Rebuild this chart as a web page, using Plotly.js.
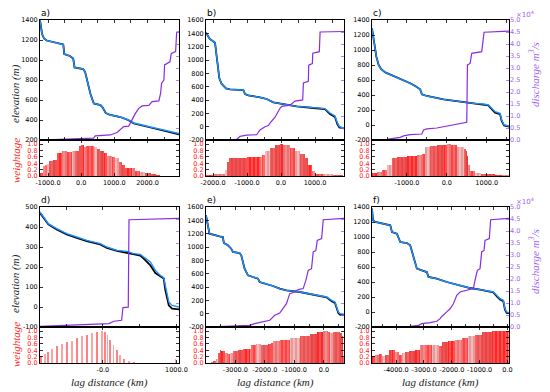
<!DOCTYPE html>
<html><head><meta charset="utf-8">
<script src="https://cdn.plot.ly/plotly-3.0.1.min.js"></script>
<style>html,body{margin:0;padding:0;background:#fff}#chart{width:550px;height:392px}</style>
</head><body><div id="chart"></div>
<script>
// ---------- panel a ----------
const aElevX = [-1242, -1215, -1180, -1121, -1040, -540, -510, -340, -240, -200, 60, 120, 200, 280, 380, 580, 640, 740, 880, 1180, 1430, 1590, 2090, 2600, 2950];
const aElevY = [1400, 1330, 1260, 1215, 1195, 1155, 1060, 1040, 1015, 925, 910, 880, 770, 660, 565, 550, 530, 470, 450, 430, 400, 370, 330, 295, 265];
const aBlackY = [1400, 1330, 1260, 1215, 1195, 1155, 1060, 1040, 1015, 925, 910, 880, 770, 660, 565, 550, 530, 470, 450, 430, 398, 365, 325, 288, 255];
const aDisX = [-1242, -130, 374, 424, 879, 1081, 1182, 1283, 1434, 1485, 1556, 1636, 1737, 1838, 2040, 2141, 2343, 2394, 2424, 2495, 2515, 2677, 2717, 2848, 2879, 2970];
const aDisY = [0.0, 0.05, 0.08, 0.17, 0.21, 0.31, 0.42, 0.56, 0.58, 0.69, 0.9, 1.11, 1.32, 1.42, 1.44, 1.6, 1.63, 1.94, 2.36, 2.5, 3.13, 3.26, 3.61, 3.68, 4.49, 4.51];
const aWX = [-1242, -1161, -1090, -1040, -960, -838, -737, -586, -434, -283, -182, -81, -11, 71, 151, 374, 475, 576, 677, 778, 929, 1030, 1131, 1232, 1333, 1535, 1636, 1788, 1939, 2091, 2242, 2374];
const aWY = [0.1, 0.3, 0.33, 0.38, 0.48, 0.5, 0.72, 0.78, 0.76, 0.77, 0.8, 0.95, 0.98, 0.9, 0.93, 0.92, 0.86, 0.78, 0.72, 0.62, 0.6, 0.55, 0.45, 0.35, 0.25, 0.24, 0.15, 0.12, 0.1, 0.06, 0.03, 0.01];
// ---------- panel b ----------
const bElevX = [-2206, -2100, -1941, -1880, -1814, -1745, -1618, -1500, -1108, -1059, -961, -618, -422, -225, 167, 461, 951, 1294, 1441, 1588, 1657, 1716, 1853];
const bElevY = [1410, 1320, 1260, 1000, 725, 640, 575, 560, 550, 490, 470, 440, 415, 365, 325, 305, 285, 270, 205, 160, 60, 0, -20];
const bBlackY = [1410, 1320, 1260, 1000, 725, 640, 575, 560, 550, 490, 470, 440, 415, 365, 325, 305, 280, 262, 190, 145, 40, -10, -25];
const bDisX = [-2206, -1304, -1206, -1010, -716, -618, -471, -373, -324, -176, -29, 20, 265, 412, 637, 660, 804, 815, 922, 935, 1127, 1150, 1853];
const bDisY = [0.0, 0.02, 0.15, 0.2, 0.22, 0.42, 0.55, 0.6, 0.7, 0.95, 1.32, 1.4, 1.45, 1.62, 1.67, 2.38, 2.45, 3.12, 3.18, 3.62, 3.68, 4.5, 4.52];
const bWX = [-2206, -1990, -1695, -1647, -1598, -1520, -1010, -618, -569, -471, -324, -176, -29, 69, 265, 412, 559, 706, 804, 902, 1000, 1245, 1539, 1686, 1833];
const bWY = [0.04, 0.05, 0.05, 0.2, 0.45, 0.57, 0.6, 0.6, 0.65, 0.8, 0.87, 0.96, 1.0, 0.98, 0.87, 0.78, 0.7, 0.55, 0.35, 0.15, 0.07, 0.06, 0.04, 0.02, 0.0];
// ---------- panel c ----------
const cElevX = [-1876, -1817, -1767, -1709, -1651, -1543, -1334, -1084, -918, -793, -668, -626, -501, -84, 333, 666, 916, 1041, 1124, 1208, 1333, 1374, 1433, 1558];
const cElevY = [1289, 1089, 911, 800, 747, 702, 653, 600, 556, 520, 476, 409, 387, 342, 311, 289, 280, 267, 222, 178, 156, 67, 0, -13];
const cBlackY = [1289, 1089, 911, 800, 747, 702, 653, 600, 556, 520, 476, 409, 387, 342, 311, 289, 275, 262, 210, 165, 145, 55, -5, -20];
const cDisX = [-1876, -1501, -1168, -1084, -918, -626, -584, -501, -251, 0, 250, 500, 516, 583, 624, 874, 933, 1558];
const cDisY = [0.0, 0.03, 0.11, 0.17, 0.22, 0.25, 0.42, 0.46, 0.5, 0.58, 0.69, 0.74, 3.13, 3.19, 3.61, 3.68, 4.49, 4.54];
const cWX = [-1875, -1750, -1625, -1500, -1375, -1250, -1000, -750, -625, -540, -420, -250, -80, 0, 100, 250, 420, 480, 500, 540, 580, 700, 850, 1000, 1200, 1400, 1550];
const cWY = [0.08, 0.12, 0.2, 0.35, 0.55, 0.6, 0.62, 0.66, 0.7, 0.9, 0.93, 0.96, 0.98, 1.0, 0.97, 0.92, 0.84, 0.8, 0.62, 0.35, 0.15, 0.1, 0.07, 0.05, 0.04, 0.03, 0.02];
// ---------- panel d ----------
const dElevX = [-855, -810, -742, -628, -492, -355, -219, -37, 54, 191, 327, 418, 509, 555, 646, 714, 782, 827, 850, 896, 941, 1035];
const dElevY = [475, 450, 417, 392, 367, 350, 333, 317, 300, 283, 278, 267, 263, 250, 225, 183, 158, 147, 100, 25, 8, 0];
const dBlackY = [470, 446, 413, 388, 363, 346, 329, 313, 296, 281, 270, 262, 257, 242, 208, 170, 153, 142, 83, 8, -8, -12];
const dDisX = [-855, -492, -37, 82, 150, 255, 273, 345, 355, 1035];
const dDisY = [0.03, 0.07, 0.11, 0.14, 0.24, 0.28, 0.81, 0.83, 4.47, 4.53];
const dWX = [-846, -787, -742, -696, -628, -560, -492, -424, -355, -287, -219, -151, -82, -14, 32, 64, 100, 145, 191, 237, 291, 350, 418, 987];
const dWY = [0.23, 0.29, 0.36, 0.45, 0.54, 0.59, 0.65, 0.7, 0.78, 0.84, 0.89, 0.95, 0.98, 1.0, 0.98, 0.89, 0.73, 0.56, 0.4, 0.25, 0.14, 0.07, 0.02, 0.12];
// ---------- panel e ----------
const eElevX = [-3995, -3934, -3877, -3537, -3424, -3390, -3254, -3141, -3084, -2857, -2801, -2687, -2574, -2404, -2234, -2177, -1950, -1724, -1497, -1270, -816, -363, -136, 91, 261, 374, 488, 544, 680];
const eElevY = [1475, 1300, 1200, 1160, 1150, 1060, 1025, 975, 925, 910, 875, 675, 575, 550, 525, 475, 450, 415, 375, 350, 325, 290, 275, 250, 200, 175, 25, 0, -10];
const eBlackY = [1475, 1300, 1200, 1160, 1150, 1060, 1025, 975, 925, 910, 875, 675, 575, 550, 525, 475, 450, 415, 375, 350, 325, 290, 272, 245, 185, 160, 10, -15, -20];
const eDisX = [-3995, -3197, -2517, -2347, -2064, -1837, -1780, -1667, -1497, -1384, -1270, -1157, -987, -873, -703, -612, -533, -420, -363, -272, -227, -79, -23, 680];
const eDisY = [0.0, 0.03, 0.07, 0.14, 0.21, 0.28, 0.35, 0.49, 0.58, 0.76, 0.97, 1.39, 1.46, 1.56, 1.6, 1.94, 2.36, 2.43, 3.13, 3.19, 3.61, 3.68, 4.47, 4.53];
const eWX = [-3995, -3820, -3764, -3650, -3594, -3537, -3481, -3367, -3254, -3197, -3084, -2914, -2744, -2517, -2460, -2290, -2120, -1894, -1780, -1724, -1497, -1157, -816, -476, -249, -23, 147, 204, 317, 544, 601, 635];
const eWY = [0.0, 0.02, 0.06, 0.14, 0.3, 0.41, 0.38, 0.32, 0.28, 0.3, 0.38, 0.41, 0.43, 0.43, 0.57, 0.6, 0.57, 0.59, 0.62, 0.68, 0.73, 0.78, 0.84, 0.92, 0.98, 1.0, 0.97, 0.95, 0.97, 0.95, 0.85, 0.2];
// ---------- panel f ----------
const fElevX = [-4868, -4832, -4748, -4450, -4211, -4151, -3972, -3853, -3614, -3495, -3375, -3256, -3077, -2898, -2838, -2540, -2182, -1704, -1346, -987, -748, -509, -390, -271, -151, -92, -32, 54];
const fElevY = [1378, 1222, 1200, 1178, 1156, 1067, 1044, 933, 920, 889, 733, 578, 556, 533, 467, 444, 400, 356, 320, 298, 280, 267, 222, 178, 156, 44, 0, -9];
const fBlackY = [1378, 1222, 1200, 1178, 1156, 1067, 1044, 933, 920, 889, 733, 578, 556, 533, 467, 444, 400, 356, 320, 298, 278, 262, 210, 168, 145, 30, -12, -15];
const fDisX = [-4868, -3495, -3196, -3077, -2779, -2540, -2420, -2361, -2182, -2062, -1943, -1823, -1704, -1465, -1226, -1167, -1083, -987, -928, -844, -808, -653, -605, 54];
const fDisY = [0.0, 0.03, 0.07, 0.14, 0.18, 0.24, 0.35, 0.44, 0.63, 0.76, 0.97, 1.32, 1.46, 1.53, 1.6, 1.94, 2.36, 2.43, 3.13, 3.19, 3.61, 3.68, 4.47, 4.53];
const fWX = [-4868, -4749, -4630, -4510, -4391, -4271, -4152, -4032, -3913, -3793, -3674, -3554, -3315, -3136, -2957, -2718, -2479, -2360, -2121, -1882, -1643, -1404, -1165, -926, -567, 30];
const fWY = [0.23, 0.25, 0.29, 0.23, 0.25, 0.4, 0.4, 0.34, 0.26, 0.31, 0.36, 0.38, 0.4, 0.56, 0.58, 0.56, 0.54, 0.67, 0.69, 0.73, 0.78, 0.84, 0.89, 0.98, 1.0, 1.0];

const panelLabels = ['a)', 'b)', 'c)', 'd)', 'e)', 'f)'];
const dTickVals = [0, 1000];
const dTickText = ['-0.0', '1000.0'];

const panels = [
  {ex:aElevX, ey:aElevY, by:aBlackY, dx:aDisX, dy:aDisY, wx:aWX, wy:aWY, xr:[-1242,2950], yr:[200,1400], yd:200},
  {ex:bElevX, ey:bElevY, by:bBlackY, dx:bDisX, dy:bDisY, wx:bWX, wy:bWY, xr:[-2206,1853], yr:[-200,1600], yd:200},
  {ex:cElevX, ey:cElevY, by:cBlackY, dx:cDisX, dy:cDisY, wx:cWX, wy:cWY, xr:[-1876,1558], yr:[-200,1400], yd:200},
  {ex:dElevX, ey:dElevY, by:dBlackY, dx:dDisX, dy:dDisY, wx:dWX, wy:dWY, xr:[-855,1035], yr:[-100,500], yd:100, sparse:true},
  {ex:eElevX, ey:eElevY, by:eBlackY, dx:eDisX, dy:eDisY, wx:eWX, wy:eWY, xr:[-3995,680], yr:[-200,1600], yd:200},
  {ex:fElevX, ey:fElevY, by:fBlackY, dx:fDisX, dy:fDisY, wx:fWX, wy:fWY, xr:[-4868,54], yr:[-200,1400], yd:200}
];

const W = 550, H = 392;
const colPx = [[40,179],[206,344],[372,509]];
const rowPx = [{top:[20,140], bot:[140,176]}, {top:[207,327], bot:[327,363]}];
const px2x = p => p / W;
const py2y = p => 1 - p / H;

const BLUE = '#1e8fff', PURPLE = '#8a2be2', PURPLE_T = '#9f5ff0', RED = '#ff1a1a';
const SHADES = ['rgba(255,0,0,0.85)','rgba(255,70,70,0.65)','rgba(255,20,20,0.8)','rgba(255,120,120,0.55)','rgba(255,40,40,0.75)','rgba(255,0,0,0.7)'];
const tickFont = {family:'DejaVu Sans', size:6.5, color:'#000'};
const an = n => (n === 1 ? '' : String(n));

function ticksFor(range, step, dec) {
  const vals = [];
  const lo = Math.min(range[0], range[1]) - 1e-9, hi = Math.max(range[0], range[1]) + 1e-9;
  for (let v = Math.ceil(lo / step) * step; v <= hi; v += step) vals.push(Math.round(v * 1000) / 1000);
  return {tickmode:'array', tickvals:vals, ticktext:vals.map(v => v.toFixed(dec))};
}

const traces = [];
const layout = {
  width: W, height: H, margin:{l:0,r:0,t:0,b:0},
  paper_bgcolor:'#fff', plot_bgcolor:'rgba(0,0,0,0)',
  showlegend:false, font:{family:'DejaVu Sans', size:7, color:'#000'},
  bargap:0, annotations:[]
};

panels.forEach((p, i) => {
  const col = i % 3, row = Math.floor(i / 3);
  const xd = [px2x(colPx[col][0]), px2x(colPx[col][1])];
  const rt = rowPx[row];
  const xtN = 2*i+1, xbN = 2*i+2, yeN = 3*i+1, ydN = 3*i+2, ywN = 3*i+3;
  const xt = 'x'+an(xtN), xb = 'x'+an(xbN), ye = 'y'+an(yeN), yd = 'y'+an(ydN), yw = 'y'+an(ywN);

  traces.push({x:p.ex, y:p.by, xaxis:xt, yaxis:ye, mode:'lines', line:{color:'#000', width:1.8}, hoverinfo:'skip'});
  traces.push({x:p.ex, y:p.ey, xaxis:xt, yaxis:ye, mode:'lines', line:{color:BLUE, width:1.4}, hoverinfo:'skip'});
  traces.push({x:p.dx, y:p.dy, xaxis:xt, yaxis:yd, mode:'lines', line:{color:PURPLE, width:1.2}, hoverinfo:'skip'});

  let widths, offset, colors, pattern;
  if (p.sparse) {
    widths = p.wx.map(() => 24); offset = -12;
    colors = p.wx.map((_, k) => k % 2 ? 'rgba(255,90,90,0.55)' : 'rgba(255,60,60,0.65)');
    pattern = {shape:''};
  } else {
    widths = p.wx.map((v, k) => k < p.wx.length-1 ? p.wx[k+1]-v : (p.xr[1]-v));
    offset = 0;
    colors = p.wx.map((_, k) => SHADES[k % SHADES.length]);
    pattern = {shape:'|', size:4, solidity:0.25, fgcolor:'#ffffff', fgopacity:0.4, fillmode:'overlay'};
  }
  traces.push({type:'bar', x:p.wx, y:p.wy, width:widths, offset:offset, xaxis:xb, yaxis:yw,
    marker:{color:colors, line:{width:0}, pattern:pattern}, hoverinfo:'skip'});

  const common = {showgrid:false, zeroline:false, showline:true, linecolor:'#000', linewidth:1,
                  ticks:'inside', ticklen:3, tickwidth:0.8, tickcolor:'#000', tickfont:tickFont, tickangle:0};

  layout['xaxis'+an(xtN)] = Object.assign({}, common, {domain:xd, range:p.xr, anchor:ye,
    tick0:0, dtick:500, showticklabels:false, mirror:'ticks'});
  layout['xaxis'+an(xbN)] = Object.assign({}, common, {domain:xd, range:p.xr, anchor:yw, mirror:'ticks'},
    i === 3 ? {tickmode:'array', tickvals:dTickVals, ticktext:dTickText} : ticksFor(p.xr, 1000, 1));

  layout['yaxis'+an(yeN)] = Object.assign({}, common, {domain:[py2y(rt.top[1]), py2y(rt.top[0])],
    range:p.yr, anchor:xt, mirror:true}, ticksFor(p.yr, p.yd, 0));
  layout['yaxis'+an(ydN)] = Object.assign({overlaying:ye, side:'right', anchor:xt, range:[0,5],
    showgrid:false, zeroline:false, showline:false, ticks:'inside', ticklen:3,
    tickwidth:0.8, tickcolor:PURPLE_T, showticklabels: col === 2,
    tickfont:{family:'DejaVu Sans', size:6.5, color:PURPLE_T}}, ticksFor([0,5], 0.5, 1));
  layout['yaxis'+an(ywN)] = Object.assign({}, common, {domain:[py2y(rt.bot[1]), py2y(rt.bot[0])],
    range:[0,1.13], anchor:xb, mirror:'ticks',
    tickfont:{family:'DejaVu Sans', size:6.5, color:RED}}, ticksFor([0,1.0], 0.2, 1));

  layout.annotations.push({text:panelLabels[i], xref:'paper', yref:'paper', x:px2x(colPx[col][0]-1),
    y:py2y(rt.top[0]-7), xanchor:'left', yanchor:'middle', showarrow:false,
    font:{family:'DejaVu Sans', size:9, color:'#000'}});
});

const serif = (size, color) => ({family:'Liberation Serif', size:size, color:color});
[[94, 161], [284, 345]].forEach(([ce, cw]) => {
  layout.annotations.push({text:'<i>elevation (m)</i>', xref:'paper', yref:'paper', x:px2x(15), y:py2y(ce),
    xanchor:'center', yanchor:'middle', textangle:-90, showarrow:false, font:serif(11, '#222')});
  layout.annotations.push({text:'<i>weightage</i>', xref:'paper', yref:'paper', x:px2x(16), y:py2y(cw),
    xanchor:'center', yanchor:'middle', textangle:-90, showarrow:false, font:serif(11, RED)});
});
[[75, 14], [262, 201]].forEach(([cd, cm]) => {
  layout.annotations.push({text:'<i>discharge m<sup>3</sup>/s</i>', xref:'paper', yref:'paper', x:px2x(534), y:py2y(cd),
    xanchor:'center', yanchor:'middle', textangle:-90, showarrow:false, font:serif(11, PURPLE_T)});
  layout.annotations.push({text:'×10<sup>4</sup>', xref:'paper', yref:'paper', x:px2x(514), y:py2y(cm),
    xanchor:'left', yanchor:'middle', showarrow:false, font:{family:'DejaVu Sans', size:7, color:PURPLE_T}});
});
[109, 275, 441].forEach(cx => {
  layout.annotations.push({text:'<i>lag distance (km)</i>', xref:'paper', yref:'paper', x:px2x(cx), y:py2y(382),
    xanchor:'center', yanchor:'middle', showarrow:false, font:serif(11, '#222')});
});

Plotly.newPlot('chart', traces, layout, {staticPlot:true, displayModeBar:false});
</script></body></html>
